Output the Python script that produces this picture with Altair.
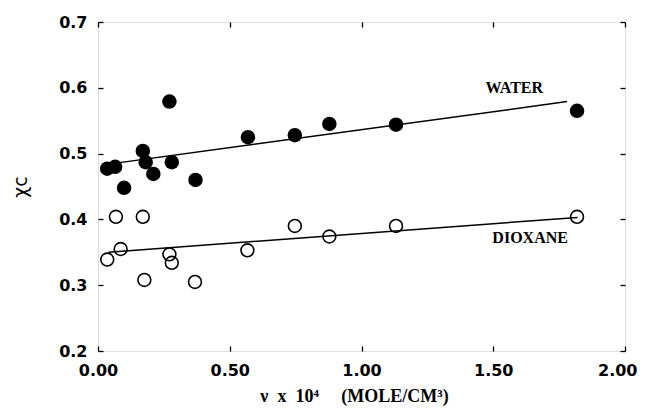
import altair as alt
import pandas as pd

# Water (filled circles)
water_x = [0.035, 0.065, 0.099, 0.170, 0.181, 0.210, 0.271, 0.280, 0.370, 0.569, 0.747, 0.878, 1.131, 1.818]
water_y = [0.477, 0.480, 0.448, 0.504, 0.487, 0.469, 0.579, 0.487, 0.460, 0.525, 0.528, 0.545, 0.544, 0.565]

# Dioxane (open circles)
diox_x = [0.035, 0.068, 0.086, 0.170, 0.176, 0.271, 0.280, 0.368, 0.567, 0.747, 0.878, 1.131, 1.818]
diox_y = [0.339, 0.404, 0.355, 0.404, 0.308, 0.347, 0.334, 0.305, 0.353, 0.390, 0.374, 0.390, 0.404]

# fitted lines (end points)
water_fit_x = [0.04, 1.78]
water_fit_y = [0.484, 0.579]
diox_fit_x = [0.04, 1.82]
diox_fit_y = [0.350, 0.403]

# labels
label_text = ["WATER", "DIOXANE"]
label_x = [1.58, 1.64]
label_y = [0.599, 0.372]

x_ticks = [0.0, 0.5, 1.0, 1.5, 2.0]
y_ticks = [0.2, 0.3, 0.4, 0.5, 0.6, 0.7]

water_df = pd.DataFrame({"x": water_x, "y": water_y})
diox_df = pd.DataFrame({"x": diox_x, "y": diox_y})
fit_df = pd.DataFrame({
    "x": water_fit_x + diox_fit_x,
    "y": water_fit_y + diox_fit_y,
    "series": ["water"] * 2 + ["dioxane"] * 2,
})
label_df = pd.DataFrame({"x": label_x, "y": label_y, "t": label_text})

xs = alt.Scale(domain=[0, 2], nice=False, zero=False, padding=0)
ys = alt.Scale(domain=[0.2, 0.7], nice=False, zero=False, padding=0)

tick_common = dict(tickSize=5, offset=-5, domain=False, grid=False, tickColor="black",
                   tickWidth=1.3, labelFlush=False)

x_title = "ν\u2002x\u200210⁴\u2003\u00a0(MOLE/CM³)"

x_bottom = alt.X("x:Q", scale=xs, axis=alt.Axis(
    orient="bottom", values=x_ticks, format=".2f", labelPadding=11,
    labelAlign={"condition": {"test": "datum.value >= 2", "value": "right"}, "value": "center"},
    labelOffset={"condition": {"test": "datum.value >= 2", "value": 12}, "value": 0},
    title=x_title, titlePadding=9, titleX=256,
    titleFont="Liberation Serif", titleFontSize=18, titleFontWeight="bold",
    labelFont="DejaVu Sans", labelFontSize=16, labelFontWeight="bold", labelColor="black",
    titleColor="black", **tick_common))
y_left = alt.Y("y:Q", scale=ys, axis=alt.Axis(
    orient="left", values=y_ticks, format=".1f", labelPadding=11,
    title="χc", titlePadding=28,
    titleFont="DejaVu Sans", titleFontSize=19, titleFontWeight="normal",
    labelFont="DejaVu Sans", labelFontSize=16, labelFontWeight="bold", labelColor="black",
    titleColor="black", **tick_common))

x_top = alt.X("x:Q", scale=xs, axis=alt.Axis(orient="top", values=x_ticks, labels=False, title=None, **tick_common))
y_right = alt.Y("y:Q", scale=ys, axis=alt.Axis(orient="right", values=y_ticks, labels=False, title=None, **tick_common))

water_pts = alt.Chart(water_df).mark_point(
    shape="circle", filled=True, color="black", size=210, opacity=1
).encode(x=x_bottom, y=y_left)

diox_pts = alt.Chart(diox_df).mark_point(
    shape="circle", filled=False, color="black", size=165, strokeWidth=1.6, opacity=1
).encode(x=alt.X("x:Q", scale=xs, axis=None), y=alt.Y("y:Q", scale=ys, axis=None))

fits = alt.Chart(fit_df).mark_line(color="black", strokeWidth=1.5).encode(
    x=x_top, y=y_right, detail="series:N"
)

labels = alt.Chart(label_df).mark_text(
    font="Liberation Serif", fontSize=16, fontWeight="bold", color="black"
).encode(
    x=alt.X("x:Q", scale=xs, axis=None),
    y=alt.Y("y:Q", scale=ys, axis=None),
    text="t:N",
)

chart = alt.layer(fits, water_pts, diox_pts, labels).resolve_axis(
    x="independent", y="independent"
).properties(
    width=527, height=329,
    autosize=alt.AutoSizeParams(type="none"),
    padding={"left": 90, "top": 14, "right": 12, "bottom": 59},
).configure_view(
    stroke="black", strokeWidth=1.5
).configure(background="white")

chart.save("out.html", embed_options={"renderer": "svg", "actions": False})
